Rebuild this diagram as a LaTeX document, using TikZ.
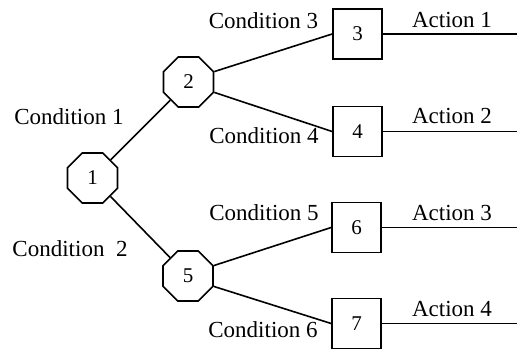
\documentclass[tikz,border=0pt]{standalone}
\usepackage{fontspec}
\setmainfont{Liberation Serif}
\usetikzlibrary{shapes.geometric}
\begin{document}
\begin{tikzpicture}[x=1pt,y=-1pt,
  oct/.style={draw, regular polygon, regular polygon sides=8, minimum size=54pt, inner sep=0pt, line width=1.7pt, font=\fontsize{21}{21}\selectfont},
  sq/.style={draw, rectangle, minimum width=49pt, minimum height=50pt, inner sep=0pt, line width=1.7pt, font=\fontsize{21}{21}\selectfont},
  lbl/.style={inner sep=0pt, font=\fontsize{23}{23}\selectfont},
  edge/.style={line width=1.6pt}]
\useasboundingbox (0,0) rectangle (517,350);
% decision nodes
\node[oct] (n1) at (92.5,178) {1};
\node[oct] (n2) at (188.5,82) {2};
\node[oct] (n5) at (188,276) {5};
% outcome boxes
\node[sq] (n3) at (357.5,34) {3};
\node[sq] (n4) at (357.5,131.5) {4};
\node[sq] (n6) at (356.5,227.5) {6};
\node[sq] (n7) at (356.5,323.5) {7};
% free ends of action lines
\coordinate (e1) at (517,34);
\coordinate (e2) at (517,131.5);
\coordinate (e3) at (517,227.5);
\coordinate (e4) at (517,323.5);
% labels
\node[lbl] (c1) at (69,117) {Condition 1};
\node[lbl] (c2) at (70,249) {Condition~~2};
\node[lbl] (c3) at (263.5,21) {Condition 3};
\node[lbl] (c4) at (264,136) {Condition 4};
\node[lbl] (c5) at (264,213) {Condition 5};
\node[lbl] (c6) at (263,330) {Condition 6};
\node[lbl] (a1) at (452,20) {Action 1};
\node[lbl] (a2) at (452,116) {Action 2};
\node[lbl] (a3) at (452,213) {Action 3};
\node[lbl] (a4) at (452,308.5) {Action 4};
% connectors
\draw[edge] (n1) -- (n2);
\draw[edge] (n1) -- (n5);
\draw[edge] (n2.22.5) -- (n3.west);
\draw[edge] (n2.-22.5) -- (n4.west);
\draw[edge] (n5.22.5) -- (n6.west);
\draw[edge] (n5.-22.5) -- (n7.west);
\draw[edge] (n3.east) -- (e1);
\draw[edge] (n4.east) -- (e2);
\draw[edge] (n6.east) -- (e3);
\draw[edge] (n7.east) -- (e4);
\end{tikzpicture}
\end{document}
